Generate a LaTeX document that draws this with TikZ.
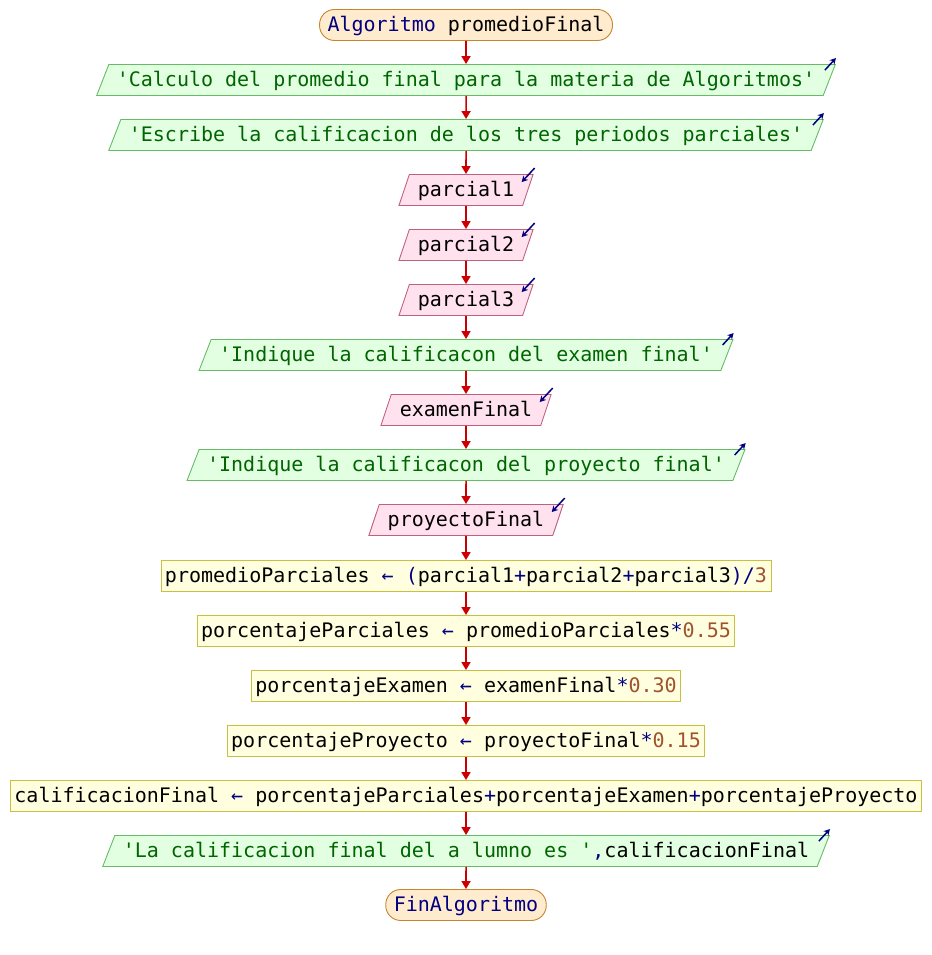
\documentclass[tikz,border=0pt]{standalone}
\usepackage{fontspec}
\setmonofont{DejaVu Sans Mono}
\usetikzlibrary{shapes.geometric,arrows.meta}

\definecolor{kwblue}{HTML}{000080}
\definecolor{strgreen}{HTML}{006400}
\definecolor{numbrown}{HTML}{A0522D}
\definecolor{flowred}{HTML}{CC0000}
\definecolor{termfill}{HTML}{FFEBCD}
\definecolor{termline}{HTML}{C8852F}
\definecolor{outfill}{HTML}{E2FFE2}
\definecolor{outline}{HTML}{66BB66}
\definecolor{infill}{HTML}{FFE2EE}
\definecolor{inline}{HTML}{C0607F}
\definecolor{procfill}{HTML}{FFFFE0}
\definecolor{procline}{HTML}{C8C040}

\newcommand\kw[1]{\textcolor{kwblue}{#1}}
\newcommand\num[1]{\textcolor{numbrown}{#1}}
\newcommand\assignto{\kw{←}}

\tikzset{
  base/.style={font=\ttfamily\fontsize{20bp}{24bp}\selectfont,
    inner ysep=6bp, text height=16bp, text depth=3bp, line width=0.9bp},
  term/.style={base, rectangle, draw=termline, fill=termfill,
    rounded corners=15bp, inner xsep=8bp},
  outbox/.style={base, trapezium, trapezium stretches body,
    trapezium left angle=68.7, trapezium right angle=111.3,
    draw=outline, fill=outfill, inner xsep=8bp, text=strgreen},
  inbox/.style={base, trapezium, trapezium stretches body,
    trapezium left angle=71.5, trapezium right angle=108.5,
    draw=inline, fill=infill, inner xsep=8.5bp},
  procbox/.style={base, rectangle, draw=procline, fill=procfill, inner xsep=4bp},
  flow/.style={draw=flowred, line width=1.6bp,
    -{Triangle[length=8bp,width=9bp]}},
  iomark/.style={draw=kwblue, line width=1.5bp,
    -{Stealth[length=6bp,width=6.5bp]}}
}

% output marker: arrow leaving the top right corner
\newcommand\outmark[1]{%
  \draw[iomark] ([shift={(-11,-6)}]#1.top right corner) -- ([shift={(0,6)}]#1.top right corner);}
% input marker: arrow entering the top right corner
\newcommand\inmark[1]{%
  \draw[iomark] ([shift={(1,6)}]#1.top right corner) -- ([shift={(-12,-8)}]#1.top right corner);}

\begin{document}
\begin{tikzpicture}[x=1bp,y=1bp]
\useasboundingbox (0,0) rectangle (932,955);

\node[term]   (start) at (466,930) {\kw{Algoritmo} promedioFinal};
\node[outbox] (o1)    at (466,875) {'Calculo del promedio final para la materia de Algoritmos'};
\node[outbox] (o2)    at (466,820) {'Escribe la calificacion de los tres periodos parciales'};
\node[inbox]  (p1)    at (466,765) {parcial1};
\node[inbox]  (p2)    at (466,710) {parcial2};
\node[inbox]  (p3)    at (466,655) {parcial3};
\node[outbox] (o3)    at (466,600) {'Indique la calificacon del examen final'};
\node[inbox]  (ex)    at (466,545) {examenFinal};
\node[outbox] (o4)    at (466,490) {'Indique la calificacon del proyecto final'};
\node[inbox]  (pf)    at (466,435) {proyectoFinal};
\node[procbox] (a1)   at (466,379) {promedioParciales \assignto{} \kw{(}parcial1\kw{+}parcial2\kw{+}parcial3\kw{)/}\num{3}};
\node[procbox] (a2)   at (466,324) {porcentajeParciales \assignto{} promedioParciales\kw{*}\num{0.55}};
\node[procbox] (a3)   at (466,269) {porcentajeExamen \assignto{} examenFinal\kw{*}\num{0.30}};
\node[procbox] (a4)   at (466,214) {porcentajeProyecto \assignto{} proyectoFinal\kw{*}\num{0.15}};
\node[procbox] (a5)   at (466,159) {calificacionFinal \assignto{} porcentajeParciales\kw{+}porcentajeExamen\kw{+}porcentajeProyecto};
\node[outbox] (o5)    at (466,104) {'La calificacion final del a lumno es '\kw{,}\textcolor{black}{calificacionFinal}};
\node[term]   (stop)  at (466,50)  {\kw{FinAlgoritmo}};

\foreach \n in {o1,o2,o3,o4,o5} {\outmark{\n}}
\foreach \n in {p1,p2,p3,ex,pf} {\inmark{\n}}

\foreach \a/\b in {start/o1,o1/o2,o2/p1,p1/p2,p2/p3,p3/o3,o3/ex,ex/o4,o4/pf,
                   pf/a1,a1/a2,a2/a3,a3/a4,a4/a5,a5/o5,o5/stop}
  {\draw[flow] (\a) -- (\b);}
\end{tikzpicture}
\end{document}
